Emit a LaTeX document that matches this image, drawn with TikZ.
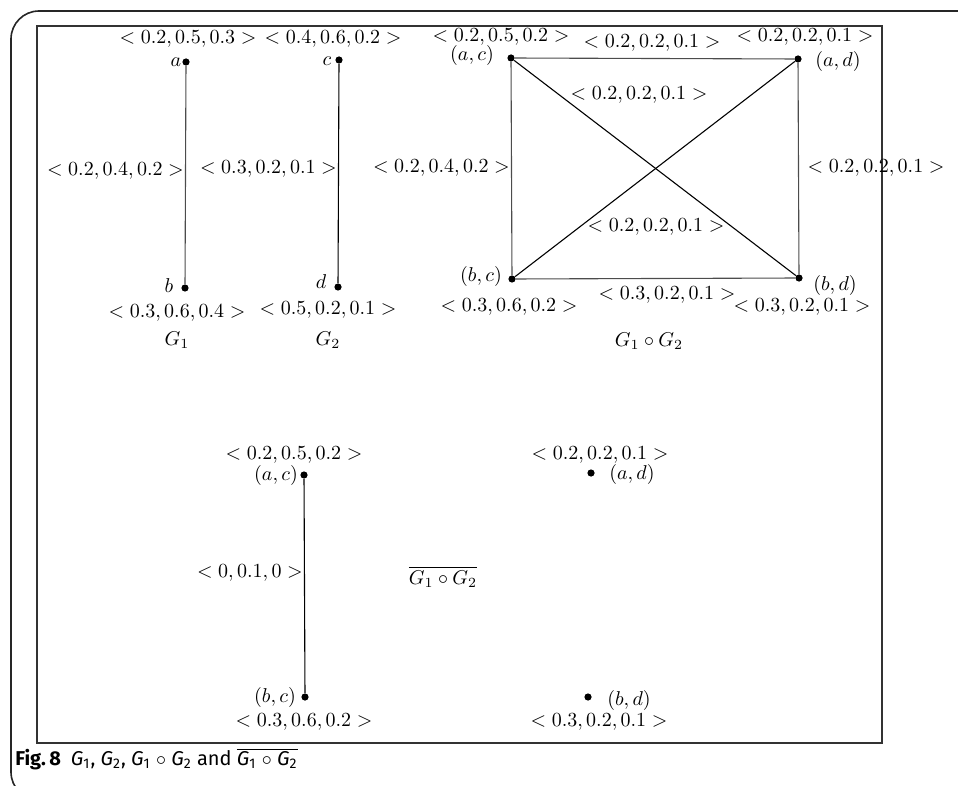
\documentclass[tikz,border=0pt]{standalone}
\usepackage{fontspec}
\newfontfamily\capfont{Fira Sans}
\usepackage{amsmath,amssymb}
\usetikzlibrary{positioning}
\tikzset{vert/.style={circle,fill=black,inner sep=0pt,minimum size=3.6pt}}
\tikzset{wt/.style={inner sep=0.6pt}}
\tikzset{link/.style={line width=0.55pt}}
\newcommand{\val}[1]{\ensuremath{<#1>}}

\begin{document}
\begin{tikzpicture}[x=0.5pt,y=-0.5pt]
\clip (0,0) rectangle (958,786);
% frames
\draw[line width=0.8pt,black!85,rounded corners=14] (990,800) -- (11,800) -- (11,11) -- (990,11);
\draw[line width=0.75pt,black!80] (37,26) rectangle (882,743);
%
% G_1 and G_2
\node (a) [vert] at (186,62) {};
\node (b) [vert] at (185,288) {};
\node (c) [vert] at (339,60) {};
\node (d) [vert] at (338,287) {};
\node (na) at (176,62) {$a$};
\node (nb) at (169,286) {$b$};
\node (nc) at (327,61) {$c$};
\node (nd) at (321,282) {$d$};
\node (va) at (188,39) {\val{0.2,0.5,0.3}};
\node (vb) at (177,313) {\val{0.3,0.6,0.4}};
\node (vc) at (333,39) {\val{0.4,0.6,0.2}};
\node (vd) at (328,310) {\val{0.5,0.2,0.1}};
\node (g1) at (177,340) {$G_1$};
\node (g2) at (328,340) {$G_2$};
\path[link,draw=black!70] (a) edge node[pos=0.48,left,wt] (wab) {\val{0.2,0.4,0.2}} (b);
\path[link] (c) edge node[pos=0.48,left,wt] (wcd) {\val{0.3,0.2,0.1}} (d);
%
% G_1 o G_2
\node (ac) [vert] at (511,58) {};
\node (ad) [vert] at (798,59) {};
\node (bc) [vert] at (512,279) {};
\node (bd) [vert] at (799,278) {};
\node (nac) at (472,56) {$(a,c)$};
\node (nad) at (838,62) {$(a,d)$};
\node (nbc) at (481,277) {$(b,c)$};
\node (nbd) at (835,286) {$(b,d)$};
\node (vac) at (501,37) {\val{0.2,0.5,0.2}};
\node (vad) at (805,37) {\val{0.2,0.2,0.1}};
\node (vbc) at (509,307) {\val{0.3,0.6,0.2}};
\node (vbd) at (802,307) {\val{0.3,0.2,0.1}};
\path[link,draw=black!70] (ac) edge (ad);
\path[link,draw=black!70] (bc) edge (bd);
\path[link,draw=black!70] (ac) edge node[pos=0.5,left,wt] (wacbc) {\val{0.2,0.4,0.2}} (bc);
\path[link,draw=black!70] (ad) edge node[pos=0.5,right,xshift=1pt] (wadbd) {\val{0.2,0.2,0.1}} (bd);
\path[link] (ac) edge (bd);
\path[link] (ad) edge (bc);
\node (wtop) at (652,43) {\val{0.2,0.2,0.1}};
\node (wdup) at (639,95) {\val{0.2,0.2,0.1}};
\node (wddn) at (656,227) {\val{0.2,0.2,0.1}};
\node (wbot) at (667,295) {\val{0.3,0.2,0.1}};
\node (g12) at (649,341) {$G_1\circ G_2$};
%
% complement
\node (ac2) [vert] at (304,475) {};
\node (bc2) [vert] at (305,697) {};
\node (ad2) [vert] at (591,473) {};
\node (bd2) [vert] at (588,697) {};
\node (nac2) at (276,475) {$(a,c)$};
\node (nbc2) at (275,697) {$(b,c)$};
\node (nad2) at (632,474) {$(a,d)$};
\node (nbd2) at (629,700) {$(b,d)$};
\node (vac2) at (294,455) {\val{0.2,0.5,0.2}};
\node (vbc2) at (304,722) {\val{0.3,0.6,0.2}};
\node (vad2) at (600,455) {\val{0.2,0.2,0.1}};
\node (vbd2) at (599,722) {\val{0.3,0.2,0.1}};
\path[link] (ac2) edge node[pos=0.44,left,wt] (wc2) {\val{0,0.1,0}} (bc2);
\node (gbar) at (443,577) {$\overline{G_1\circ G_2}$};
%
% caption
\node (cap) [anchor=west,inner sep=0pt] at (15,759) {\capfont\fontsize{10}{12}\selectfont
  \textbf{Fig.\,8}\enspace\textit{G}\textsubscript{1}, \textit{G}\textsubscript{2}, \textit{G}\textsubscript{1} $\circ$ \textit{G}\textsubscript{2} and
  $\overline{\mbox{\capfont\fontsize{10}{12}\selectfont\textit{G}\textsubscript{1} $\circ$ \textit{G}\textsubscript{2}}}$};
\end{tikzpicture}
\end{document}
